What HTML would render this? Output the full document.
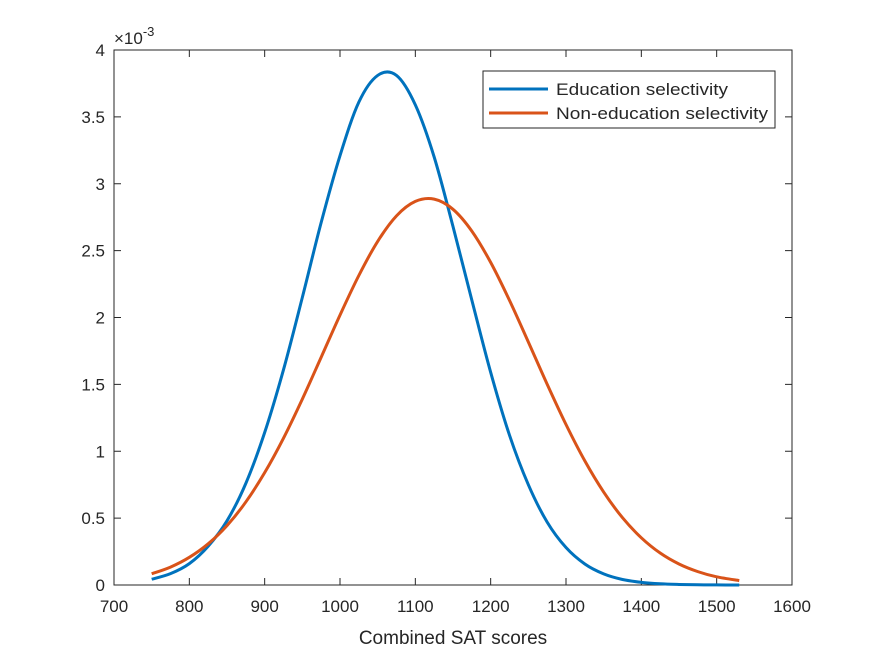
<!DOCTYPE html>
<html><head><meta charset="utf-8"><style>
body{margin:0;background:#fff;}
svg text{font-family:"Liberation Sans",Arial,sans-serif;fill:#262626;}
</style></head><body>
<svg id="chart" width="875" height="656" xmlns="http://www.w3.org/2000/svg">
<rect x="0" y="0" width="875" height="656" fill="#fff"/>
<g id="axes"></g>
<g id="series"></g>
<g id="legend">
 <rect x="483" y="71" width="292" height="57" fill="#fff" stroke="#262626" stroke-width="1"/>
 <line x1="489" y1="89" x2="548" y2="89" stroke="#0072BD" stroke-width="3"/>
 <text x="556" y="95" font-size="17" textLength="172" lengthAdjust="spacingAndGlyphs">Education selectivity</text>
 <line x1="489" y1="113" x2="548" y2="113" stroke="#D95319" stroke-width="3"/>
 <text x="556" y="119" font-size="17" textLength="212" lengthAdjust="spacingAndGlyphs">Non-education selectivity</text>
</g>
</svg>
<script>
const xs=[750,775,800,825,850,875,900,925,950,975,1000,1025,1050,1075,1100,1125,1150,1175,1200,1225,1250,1275,1300,1325,1350,1375,1400,1425,1450,1475,1500,1530];
const eduVals=[0.043,0.085,0.16,0.29,0.48,0.76,1.14,1.61,2.15,2.71,3.21,3.61,3.81,3.81,3.59,3.20,2.68,2.13,1.59,1.12,0.75,0.47,0.28,0.157,0.083,0.041,0.020,0.009,0.004,0.0015,0.0005,0.0002];
const nonEduVals=[0.084,0.134,0.207,0.308,0.444,0.621,0.840,1.098,1.390,1.703,2.018,2.314,2.569,2.760,2.868,2.885,2.809,2.646,2.412,2.128,1.817,1.501,1.200,0.928,0.695,0.503,0.353,0.239,0.157,0.100,0.061,0.033];
const xTicks=[700,800,900,1000,1100,1200,1300,1400,1500,1600];
const yTicks=[0,0.5,1,1.5,2,2.5,3,3.5,4];
const yTickLabels=["0","0.5","1","1.5","2","2.5","3","3.5","4"];

const L=114,R=792,T=50,B=585;
const X=v=>L+(v-700)/900*(R-L);
const Y=v=>B-v/4*(B-T);
const NS="http://www.w3.org/2000/svg";
function mk(tag,attrs,parent,txt){const e=document.createElementNS(NS,tag);for(const k in attrs)e.setAttribute(k,attrs[k]);if(txt!==undefined)e.textContent=txt;parent.appendChild(e);return e;}
const ax=document.getElementById('axes');
const box=mk('rect',{x:L,y:T,width:R-L,height:B-T,fill:'#fff',stroke:'#262626','stroke-width':1},ax);


xTicks.forEach(t=>{const x=X(t);
 mk('line',{x1:x,y1:B,x2:x,y2:B-7,stroke:'#262626'},ax);
 mk('line',{x1:x,y1:T,x2:x,y2:T+7,stroke:'#262626'},ax);
 const lb=mk('text',{x:x,y:B+27,'font-size':17,'text-anchor':'middle'},ax,String(t));
 
 
});
yTicks.forEach((t,i)=>{const y=Y(t);
 mk('line',{x1:L,y1:y,x2:L+7,y2:y,stroke:'#262626'},ax);
 mk('line',{x1:R,y1:y,x2:R-7,y2:y,stroke:'#262626'},ax);
 const lb=mk('text',{x:L-9,y:y+6,'font-size':17,'text-anchor':'end'},ax,yTickLabels[i]);
 
 
});
const xl=mk('text',{x:453,y:644,'font-size':19,'text-anchor':'middle'},ax,'Combined SAT scores');


const ex=mk('text',{x:114,y:44,'font-size':17},ax);


ex.innerHTML='×10<tspan dy="-8" font-size="13">-3</tspan>';

function path(vals){
 const p=xs.map((x,i)=>[X(x),Y(vals[i])]);
 let d='M'+p[0][0]+','+p[0][1];
 for(let i=0;i<p.length-1;i++){
  const p0=p[Math.max(0,i-1)],p1=p[i],p2=p[i+1],p3=p[Math.min(p.length-1,i+2)];
  const c1=[p1[0]+(p2[0]-p0[0])/6,p1[1]+(p2[1]-p0[1])/6];
  const c2=[p2[0]-(p3[0]-p1[0])/6,p2[1]-(p3[1]-p1[1])/6];
  d+=` C${c1[0]},${c1[1]} ${c2[0]},${c2[1]} ${p2[0]},${p2[1]}`;
 }
 return d;
}
const sg=document.getElementById('series');
const s1=mk('path',{d:path(eduVals),fill:'none',stroke:'#0072BD','stroke-width':3},sg);


const s2=mk('path',{d:path(nonEduVals),fill:'none',stroke:'#D95319','stroke-width':3},sg);


</script>
</body></html>
